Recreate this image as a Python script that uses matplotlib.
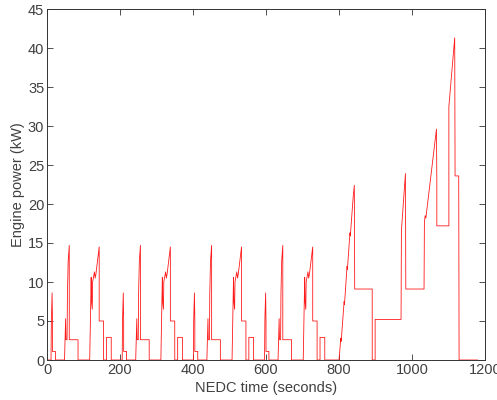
import numpy as np
import matplotlib
matplotlib.use("Agg")
import matplotlib.pyplot as plt

# ECE-15 urban cycle (one repetition), time in s, engine power in kW
ece_time = [0, 11, 12, 14, 15, 15, 23, 23, 48, 51,
            52, 55, 56, 58, 61, 61, 85, 85, 117, 121,
            122, 124, 125, 130, 132, 134, 143, 143, 155, 155,
            163, 163, 176, 176, 195]
ece_power = [0, 0, 5.3, 8.6, 5.0, 1.1, 1.1, 0, 0, 5.3,
             2.6, 2.6, 8.5, 12.7, 14.7, 2.6, 2.6, 0, 0, 10.6,
             7.5, 6.5, 10.0, 11.3, 10.5, 11.0, 14.5, 5.0, 5.0, 0,
             0, 2.9, 2.9, 0, 0]
ece_starts = [0, 195, 390, 585]

# EUDC extra-urban part
eudc_time = [780, 800, 805, 806, 814, 815, 822, 823, 830, 831,
             839, 842, 843, 891, 891, 899, 899, 970, 971, 982,
             983, 1033, 1034, 1036, 1038, 1067, 1068, 1068, 1101, 1101,
             1117, 1118, 1128, 1129, 1180]
eudc_power = [0, 0, 2.8, 2.4, 7.5, 7.1, 12.0, 11.6, 16.3, 15.9,
              21.0, 22.4, 9.1, 9.1, 0, 0, 5.2, 5.2, 16.6, 23.9,
              9.1, 9.1, 17.7, 18.5, 18.2, 29.6, 23.2, 17.2, 17.2, 32.5,
              41.3, 23.6, 23.6, 0, 0]

x_ticks = [0, 200, 400, 600, 800, 1000, 1200]
y_ticks = [0, 5, 10, 15, 20, 25, 30, 35, 40, 45]

plt.rcParams['font.family'] = ['Liberation Sans', 'DejaVu Sans']

time = np.concatenate([np.array(ece_time) + s for s in ece_starts] + [eudc_time])
power = np.concatenate([ece_power] * len(ece_starts) + [eudc_power])

fig = plt.figure(figsize=(4.97, 4.0), dpi=100)
ax = fig.add_axes([47 / 497, 40 / 400, 438 / 497, 351 / 400])
ax.plot(time, power, color='#ff1a1a', linewidth=0.6)

ax.set_xlim(0, 1200)
ax.set_ylim(0, 45)
ax.set_xticks(x_ticks)
ax.set_yticks(y_ticks)
ax.tick_params(direction='in', top=True, right=True, length=4, width=0.6,
               labelsize=10.5, labelcolor='#404040', color='#333333', pad=2)
for sp in ax.spines.values():
    sp.set_linewidth(0.7)
    sp.set_color('#333333')

ax.set_xlabel('NEDC time (seconds)', fontsize=10.5, color='#404040', labelpad=3)
ax.set_ylabel('Engine power (kW)', fontsize=10.5, color='#404040', labelpad=2)

fig.savefig('out.png', dpi=100)
